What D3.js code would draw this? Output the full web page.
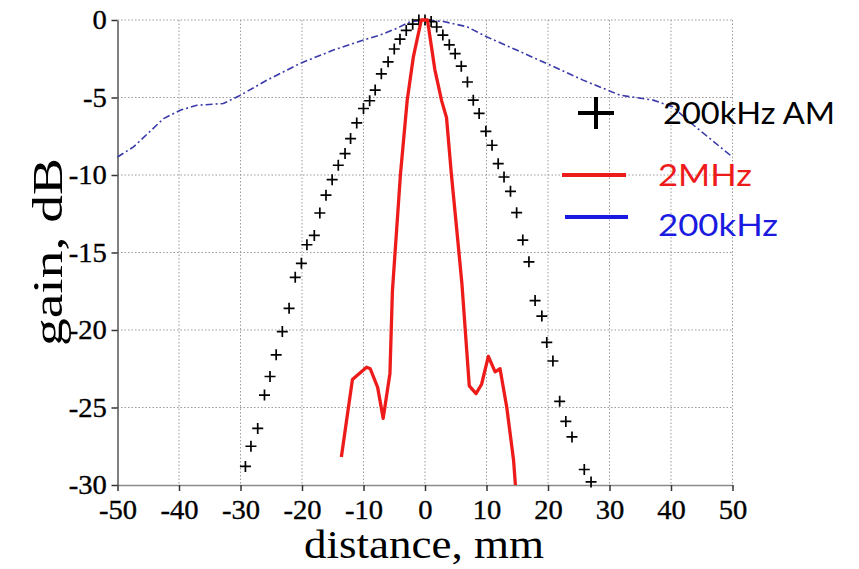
<!DOCTYPE html>
<html><head><meta charset="utf-8">
<script src="https://cdn.jsdelivr.net/npm/d3@7"></script>
<style>
body{margin:0;background:#fff}
.serif{font-family:"Liberation Serif","Times New Roman",Times,serif;}
.sans{font-family:Lato,"Open Sans",sans-serif;}
</style>
</head><body><svg id="c" width="859" height="569"></svg>
<script>
const xTicks = [-50,-40,-30,-20,-10,0,10,20,30,40,50];
const yTicks = [0,-5,-10,-15,-20,-25,-30];

const blueX = [-50,-47.4,-42.5,-39.8,-37.1,-32.8,-30,-25.7,-20.3,-14.9,-10,-7.3,-4.6,-2.4,0,3,6.8,10,14.9,20.3,25.7,31.7,37.1,40.3,43.1,50];
const blueY = [-8.84,-8.19,-6.36,-5.82,-5.5,-5.39,-4.85,-3.88,-2.8,-1.94,-1.29,-0.97,-0.54,-0.11,0,-0.1,-0.43,-1.08,-1.94,-2.9,-3.88,-4.85,-5.17,-5.6,-6.6,-8.84];

const redX = [-13.6,-11.8,-9.5,-8.9,-7.7,-6.8,-5.7,-5.3,-4.0,-2.9,-1.9,-0.6,0.4,1.6,2.7,3.5,4.3,5.4,6.0,7.2,8.3,9.2,10.3,11.4,12.2,13.3,14.4,14.7];
const redY = [-28.2,-23.2,-22.4,-22.5,-23.7,-25.7,-22.8,-17.5,-10.0,-5.2,-2.4,0,0,-3.2,-5.2,-6.3,-10.0,-14.5,-17.0,-23.6,-24.1,-23.5,-21.7,-22.7,-22.5,-25.0,-28.4,-30];

const amX = [-29.2,-28.3,-27.2,-26.1,-25.2,-24.2,-23.2,-22.1,-21.1,-20.1,-19.2,-18.0,-17.1,-16.1,-15.1,-14.1,-13.0,-12.1,-11.1,-10.0,-9.0,-8.1,-7.1,-6.0,-5.0,-4.07,-3.05,-2.0,-1.0,0,1,1.9,2.9,3.95,4.9,5.9,6.9,7.85,8.8,9.9,10.9,11.9,12.85,13.9,14.9,15.9,16.9,17.9,19.0,19.8,20.8,21.9,22.9,23.9,25.9,27.0];
const amY = [-28.8,-27.5,-26.35,-24.2,-23.0,-21.6,-20.1,-18.6,-16.6,-15.7,-14.5,-13.9,-12.45,-11.3,-10.3,-9.37,-8.62,-7.65,-6.64,-5.71,-5.21,-4.52,-3.47,-2.7,-1.87,-1.24,-0.67,-0.27,0,0,-0.1,-0.45,-0.97,-1.6,-2.17,-2.98,-4.0,-5.17,-6.03,-7.18,-8.08,-9.27,-10.13,-11.05,-12.43,-14.2,-15.6,-18.1,-19.1,-20.8,-22.0,-24.6,-25.9,-26.9,-29.0,-29.8];

const legendLabels = ["200kHz AM","2MHz","200kHz"];
const xTitle = "distance, mm";
const yTitle = "gain, dB";

const serifFam = '"Liberation Serif","Times New Roman",Times,serif';
const svg = d3.select("#c");
const x = d3.scaleLinear().domain([-50,50]).range([117.5,732.5]);
const y = d3.scaleLinear().domain([0,-30]).range([20,485]);

// grid
const grid = svg.append("g").attr("stroke","#9a9a9a").attr("stroke-width",1).attr("stroke-dasharray","1.5,2");
grid.selectAll("line.v").data(xTicks.filter(d=>d!==-50)).join("line")
  .attr("x1",d=>x(d)).attr("x2",d=>x(d)).attr("y1",y(0)).attr("y2",y(-30));
grid.selectAll("line.h").data(yTicks.filter(d=>d!==-30)).join("line")
  .attr("x1",x(-50)).attr("x2",x(50)).attr("y1",d=>y(d)).attr("y2",d=>y(d));

// axes
const xAxis = svg.append("g").attr("transform",`translate(0,${y(-30)})`)
  .call(d3.axisBottom(x).tickValues(xTicks).tickSize(6).tickSizeOuter(0).tickFormat(d=>String(d)));
xAxis.attr("font-family",serifFam).attr("font-size",27);
xAxis.select(".domain").attr("stroke","#8a8a8a").attr("stroke-width",1.5);
xAxis.selectAll(".tick line").attr("stroke","#333").attr("stroke-width",1.5);
xAxis.selectAll(".tick text").style("font-family",serifFam).style("font-size","27px")
  .attr("fill","#000").attr("stroke","#000").attr("stroke-width",0.35)
  .attr("y",15).attr("transform","scale(1.06,1)");

const yAxis = svg.append("g").attr("transform",`translate(${x(-50)},0)`)
  .call(d3.axisLeft(y).tickValues(yTicks).tickSize(6).tickSizeOuter(0).tickFormat(d=>String(d)));
yAxis.attr("font-family",serifFam).attr("font-size",27);
yAxis.select(".domain").attr("stroke","#555").attr("stroke-width",1.5);
yAxis.selectAll(".tick text").style("font-family",serifFam).style("font-size","27px")
  .attr("fill","#000").attr("stroke","#000").attr("stroke-width",0.35)
  .attr("x",-10).attr("transform","scale(1.06,1)");
yAxis.selectAll(".tick line").attr("stroke","#333").attr("stroke-width",1.5);

// blue 200kHz
const blueData = blueX.map((d,i)=>[d,blueY[i]]);
svg.append("path").datum(blueData)
  .attr("d",d3.line().x(d=>x(d[0])).y(d=>y(d[1])))
  .attr("fill","none").attr("stroke","#3a3aaa").attr("stroke-width",1.6)
  .attr("stroke-dasharray","7,3,2,3");

// crosses 200kHz AM
const amData = amX.map((d,i)=>[d,amY[i]]);
svg.append("g").selectAll("path").data(amData).join("path")
  .attr("transform",d=>`translate(${x(d[0])},${y(d[1])})`)
  .attr("d","M-5.5,0H5.5M0,-5.5V5.5").attr("stroke","#000").attr("stroke-width",1.7).attr("fill","none");

// red 2MHz
const redData = redX.map((d,i)=>[d,redY[i]]);
svg.append("path").datum(redData)
  .attr("d",d3.line().x(d=>x(d[0])).y(d=>y(d[1])))
  .attr("fill","none").attr("stroke","#ee1b1b").attr("stroke-width",3.3).attr("stroke-linejoin","round");

// legend
const lg = svg.append("g");
lg.append("path").attr("d","M578,113H614M596,97V129").attr("stroke","#000").attr("stroke-width",4).attr("fill","none");
lg.append("text").attr("x",663).attr("y",124).text(legendLabels[0]).attr("fill","#000").attr("textLength",172);
lg.append("line").attr("x1",562).attr("x2",626).attr("y1",175).attr("y2",175).attr("stroke","#ee1b1b").attr("stroke-width",4);
lg.append("text").attr("x",658).attr("y",186).text(legendLabels[1]).attr("fill","#ee1b1b").attr("textLength",94);
lg.append("line").attr("x1",565).attr("x2",628).attr("y1",217).attr("y2",217).attr("stroke","#1a1ae0").attr("stroke-width",4);
lg.append("text").attr("x",658).attr("y",236).text(legendLabels[2]).attr("fill","#1a1ae0").attr("textLength",120);
lg.selectAll("text").attr("class","sans").style("font-size","31px").attr("lengthAdjust","spacingAndGlyphs");

// titles
svg.append("text").attr("class","serif").attr("x",424).attr("y",558).attr("text-anchor","middle")
  .style("font-size","40px").attr("textLength",240).attr("lengthAdjust","spacingAndGlyphs")
  .text(xTitle);
svg.append("text").attr("class","serif").attr("transform","translate(62,252) rotate(-90)").attr("text-anchor","middle")
  .style("font-size","42px").attr("textLength",188).attr("lengthAdjust","spacingAndGlyphs")
  .text(yTitle);
</script></body></html>
